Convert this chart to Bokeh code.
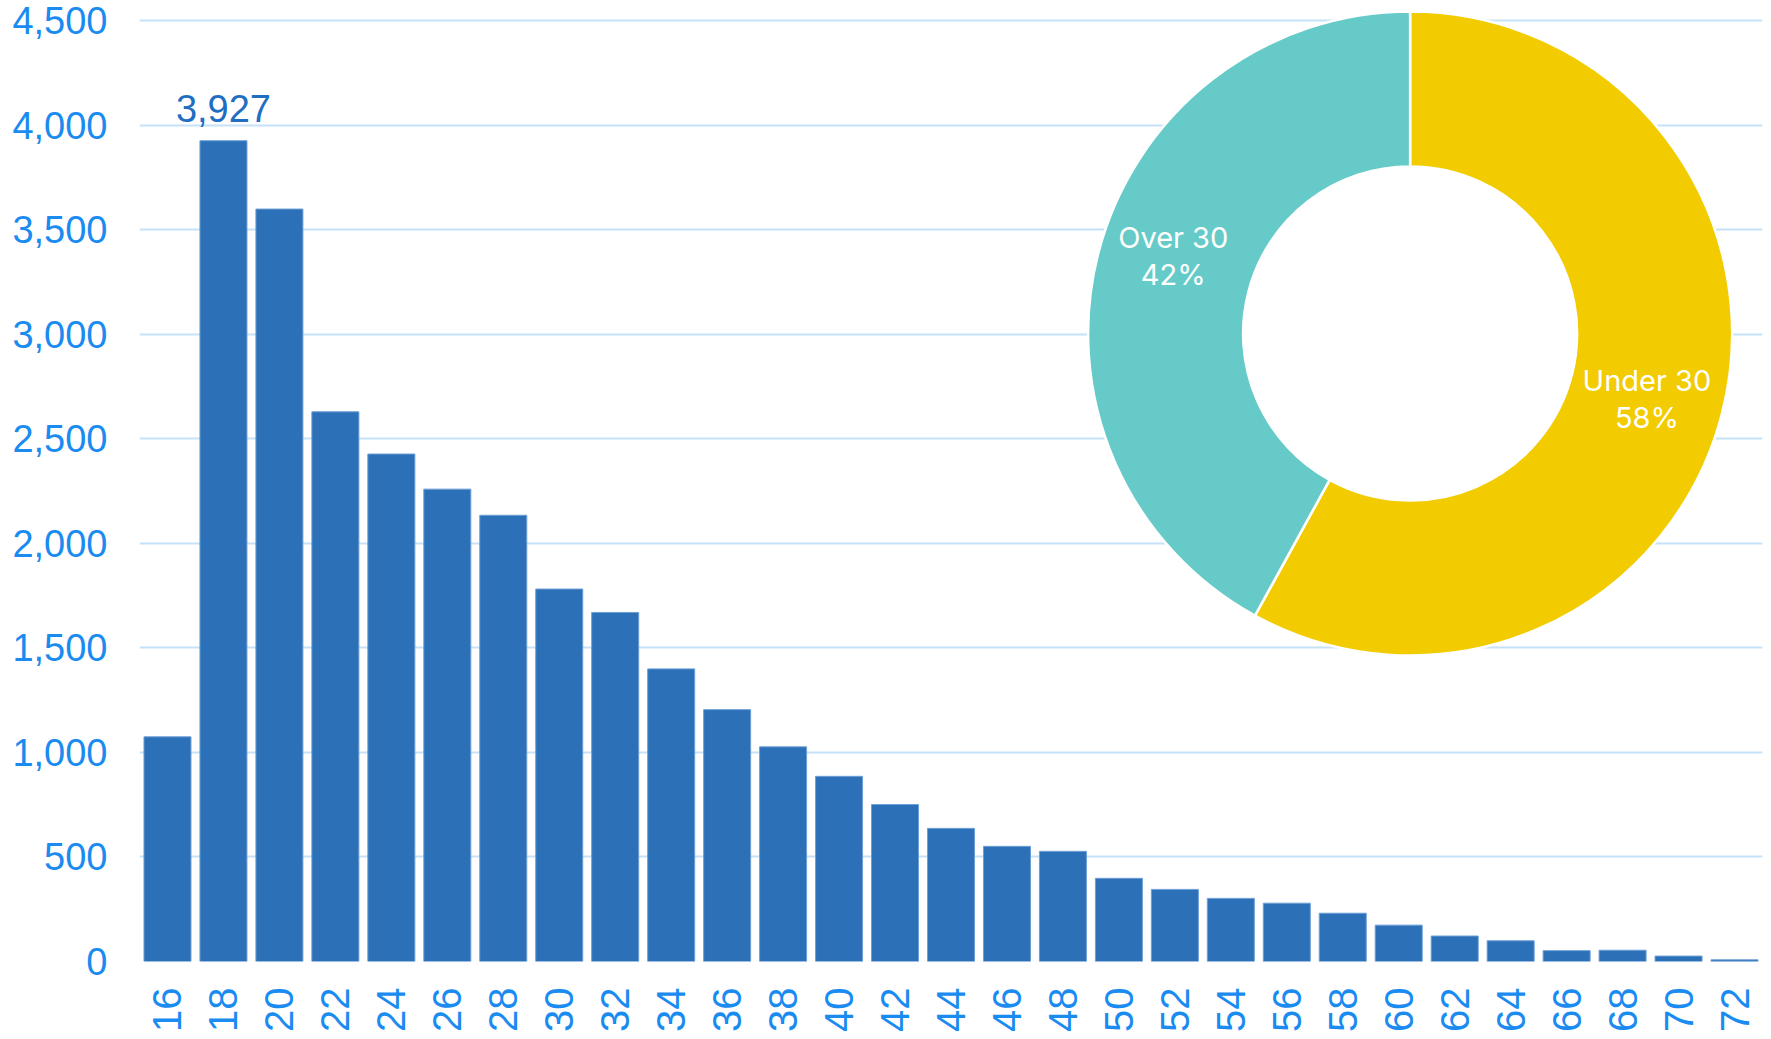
import math
from bokeh.plotting import figure
from bokeh.models import (Range1d, ColumnDataSource, SingleIntervalTicker, FixedTicker,
                          NumeralTickFormatter)
from bokeh.core.properties import value
from bokeh.embed import file_html
from bokeh.resources import INLINE

ages = [str(a) for a in range(16, 74, 2)]
counts = [1075, 3927, 3600, 2630, 2428, 2260, 2135, 1782, 1670, 1400,
          1205, 1027, 886, 751, 637, 551, 527, 398, 345, 302,
          279, 231, 174, 122, 99, 52, 54, 26, 8]
peak_label = "3,927"

donut_labels = ["Under 30", "Over 30"]
donut_values = [58, 42]
donut_colors = ["#F2CC00", "#66CBC8"]

BAR = "#2C70B8"
TICK = "#1A8BF0"
GRID = "#C6E2F8"

W, H = 1771, 1039
LEFT, RIGHT, TOP, BOTTOM = 139, 9, 10, 78
FW, FH = W - LEFT - RIGHT, H - TOP - BOTTOM

pos = list(range(len(ages)))
p = figure(width=W, height=H, output_backend="svg", toolbar_location=None,
           x_range=Range1d(-0.5, len(ages) - 0.5), y_range=Range1d(0, 4550),
           min_border_left=LEFT, min_border_right=RIGHT, min_border_top=TOP,
           min_border_bottom=BOTTOM)
p.outline_line_color = None
p.background_fill_color = "white"
p.border_fill_color = "white"

p.vbar(x=pos, top=counts, width=0.84, fill_color=BAR, line_color="#6C9FD6", line_width=1)

# peak label
i_max = counts.index(max(counts))
p.text(x=[pos[i_max]], y=[counts[i_max]], text=[peak_label], text_align="center",
       text_baseline="bottom", y_offset=-19, text_color="#1F6EC2",
       text_font=value("Liberation Sans"), text_font_size="38px")

# axes
p.xaxis.ticker = FixedTicker(ticks=pos)
p.xaxis.major_label_overrides = {i: a for i, a in zip(pos, ages)}
p.yaxis.ticker = SingleIntervalTicker(interval=500)
p.yaxis.formatter = NumeralTickFormatter(format="0,0")
for ax in (p.xaxis, p.yaxis):
    ax.axis_line_color = None
    ax.major_tick_line_color = None
    ax.minor_tick_line_color = None
    ax.major_label_text_color = TICK
    ax.major_label_text_font = "Liberation Sans"
p.yaxis.major_label_text_font_size = "38px"
p.xaxis.major_label_text_font_size = "40px"
p.yaxis.major_label_standoff = 26
p.xaxis.major_label_orientation = math.pi / 2
p.xaxis.major_label_standoff = 20
p.xgrid.grid_line_color = None
p.ygrid.grid_line_color = GRID
p.ygrid.grid_line_width = 2
p.ygrid.ticker = SingleIntervalTicker(interval=500)

# donut on a pixel-like extra range
p.extra_x_ranges = {"px": Range1d(0, FW)}
p.extra_y_ranges = {"px": Range1d(0, FH)}
cx, cy = 1409.6 - LEFT, (H - BOTTOM) - 333
R_OUT, R_IN = 322, 167
label_nudge = [5, -17]  # screen px, positive = down

total = sum(donut_values)
starts, ends, lx, ly = [], [], [], []
acc = 0.0
for v in donut_values:
    a0 = math.pi / 2 - 2 * math.pi * acc / total
    a1 = math.pi / 2 - 2 * math.pi * (acc + v) / total
    starts.append(a0)
    ends.append(a1)
    mid = (a0 + a1) / 2
    rm = (R_OUT + R_IN) / 2
    lx.append(cx + rm * math.cos(mid))
    ly.append(cy + rm * math.sin(mid))
    acc += v

src = ColumnDataSource(dict(x=[cx] * len(donut_values), y=[cy] * len(donut_values),
                            start=starts, end=ends, color=donut_colors,
                            label=[f"{l}\n{v}%" for l, v in zip(donut_labels, donut_values)],
                            lx=lx, ly=ly, dy=label_nudge))
p.circle(x=[cx], y=[cy], radius=R_IN, radius_units="screen", fill_color="white",
         line_color=None, x_range_name="px", y_range_name="px")
p.annular_wedge(x="x", y="y", inner_radius=R_IN, outer_radius=R_OUT,
                inner_radius_units="screen", outer_radius_units="screen",
                start_angle="start", end_angle="end", direction="clock",
                fill_color="color", line_color="white", line_width=2.5,
                source=src, x_range_name="px", y_range_name="px")
p.text(x="lx", y="ly", text="label", source=src, text_align="center",
       text_baseline="middle", text_color="white", text_font=value("Inter"),
       text_font_size="29px", text_line_height=1.05, y_offset="dy",
       x_range_name="px", y_range_name="px")

open("out.html", "w").write(file_html(p, INLINE))
